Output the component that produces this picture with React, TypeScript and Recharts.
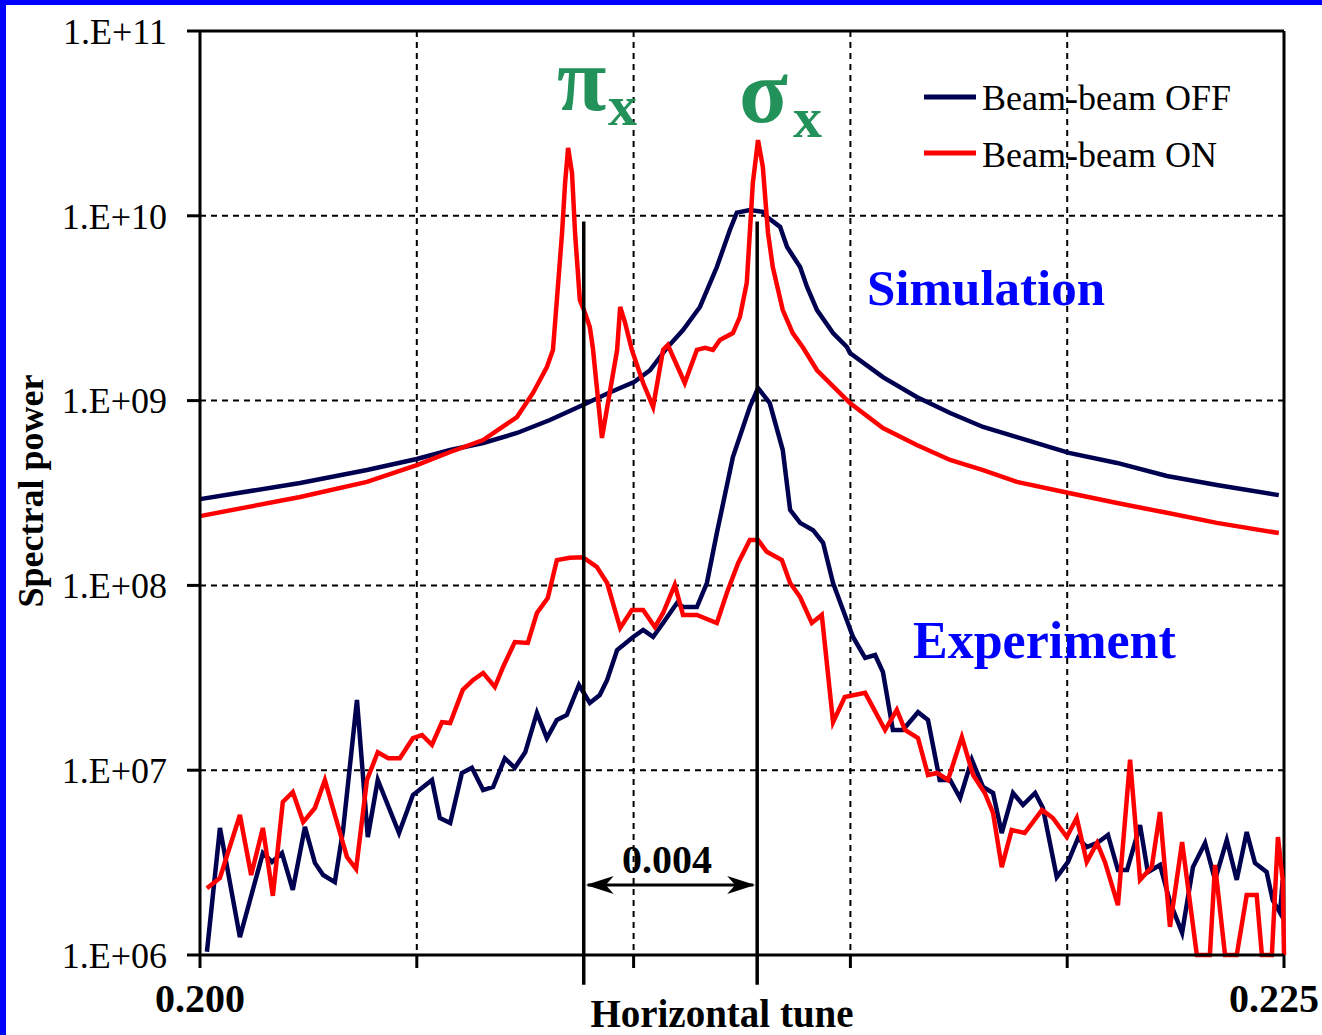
import {
  LineChart,
  Line,
  XAxis,
  YAxis,
  CartesianGrid,
  ReferenceLine,
} from "recharts";

// ---- data (tune, spectral power) ----

const simOffTune = [
  0.2, 0.20231, 0.20385, 0.205, 0.20577, 0.20653, 0.20731, 0.20807, 0.20883, 0.20946,
  0.21001, 0.21038, 0.21068, 0.21077, 0.21114, 0.21153, 0.21192, 0.21222, 0.21238, 0.21268,
  0.21298, 0.21308, 0.21338, 0.21354, 0.21384, 0.214, 0.21423, 0.2146, 0.21492, 0.21499,
  0.21575, 0.21653, 0.2173, 0.21806, 0.21884, 0.22004, 0.22115, 0.2223, 0.22345, 0.22488,
];
const simOffPower = [
  2.93e8, 3.58e8, 4.21e8, 4.83e8, 5.4e8, 5.9e8, 6.68e8, 7.85e8, 9.47e8, 1.11e9,
  1.26e9, 1.46e9, 1.81e9, 1.93e9, 2.41e9, 3.21e9, 5.28e9, 8.38e9, 1.04e10, 1.075e10,
  1.05e10, 9.85e9, 8.7e9, 6.78e9, 5.28e9, 4.12e9, 3.09e9, 2.32e9, 1.95e9, 1.81e9,
  1.34e9, 1.046e9, 8.57e8, 7.2e8, 6.35e8, 5.21e8, 4.6e8, 3.91e8, 3.49e8, 3.08e8,
];

const simOnTune = [
  0.2, 0.20231, 0.20385, 0.205, 0.20577, 0.20653, 0.20731, 0.20768, 0.208, 0.20814,
  0.20823, 0.20835, 0.20842, 0.20849, 0.20858, 0.20865, 0.20876, 0.20888, 0.20899, 0.20906,
  0.20927, 0.20962, 0.20969, 0.2098, 0.20996, 0.21022, 0.21045, 0.21068, 0.21079, 0.21118,
  0.21146, 0.21165, 0.21183, 0.21199, 0.21229, 0.21245, 0.21261, 0.21268, 0.21275, 0.21287,
  0.21298, 0.2131, 0.21321, 0.21344, 0.21367, 0.21391, 0.21423, 0.21499, 0.21575, 0.21653,
  0.2173, 0.21806, 0.21884, 0.22004, 0.22115, 0.2223, 0.22345, 0.22488,
];
const simOnPower = [
  2.37e8, 3.01e8, 3.63e8, 4.48e8, 5.27e8, 6.12e8, 8.15e8, 1.1e9, 1.52e9, 1.88e9,
  3.5e9, 8.07e9, 1.505e10, 2.33e10, 1.7e10, 8.07e9, 3.5e9, 2.98e9, 2.5e9, 1.93e9,
  6.28e8, 1.88e9, 3.21e9, 2.66e9, 1.88e9, 1.245e9, 9.24e8, 1.88e9, 2.0e9, 1.245e9,
  1.88e9, 1.93e9, 1.88e9, 2.13e9, 2.32e9, 2.83e9, 4.33e9, 8.07e9, 1.505e10, 2.57e10,
  1.84e10, 8.07e9, 5.28e9, 3.09e9, 2.32e9, 1.93e9, 1.46e9, 9.7e8, 7.11e8, 5.75e8,
  4.77e8, 4.21e8, 3.63e8, 3.16e8, 2.79e8, 2.47e8, 2.18e8, 1.92e8,
];

const expOffTune = [
  0.20016, 0.20046, 0.20092, 0.20145, 0.20166, 0.20189, 0.20214, 0.20242, 0.20265, 0.20284,
  0.20311, 0.2033, 0.20362, 0.20387, 0.2041, 0.20459, 0.20491, 0.20535, 0.20553, 0.20577,
  0.20604, 0.20627, 0.20653, 0.20676, 0.20703, 0.20726, 0.2075, 0.20777, 0.208, 0.20823,
  0.20846, 0.20874, 0.20899, 0.20922, 0.20939, 0.20962, 0.20999, 0.21022, 0.21045, 0.21068,
  0.211, 0.21114, 0.21146, 0.21169, 0.21192, 0.21229, 0.21268, 0.21287, 0.21314, 0.21344,
  0.21361, 0.21384, 0.21414, 0.21437, 0.2146, 0.21483, 0.21506, 0.21534, 0.21557, 0.21575,
  0.21598, 0.21621, 0.21656, 0.21679, 0.21706, 0.2173, 0.21753, 0.2178, 0.21806, 0.21829,
  0.21849, 0.21875, 0.21898, 0.21926, 0.21944, 0.21976, 0.22002, 0.22025, 0.22045, 0.22069,
  0.22094, 0.22117, 0.22138, 0.22168, 0.22186, 0.22214, 0.22237, 0.22265, 0.2229, 0.22318,
  0.22341, 0.22368, 0.22391, 0.22414, 0.22433, 0.2246, 0.22474, 0.22491, 0.22497,
];
const expOffPower = [
  1.04e6, 4.87e6, 1.25e6, 3.56e6, 3.19e6, 3.56e6, 2.25e6, 4.93e6, 3.15e6, 2.71e6,
  2.48e6, 4.75e6, 2.4e7, 4.35e6, 8.85e6, 4.57e6, 7.34e6, 8.85e6, 5.51e6, 5.18e6,
  9.66e6, 1.03e7, 7.81e6, 8.11e6, 1.16e7, 1.03e7, 1.25e7, 2.04e7, 1.49e7, 1.87e7,
  1.99e7, 2.89e7, 2.31e7, 2.55e7, 3.08e7, 4.47e7, 5.26e7, 5.74e7, 5.26e7, 6.26e7,
  8.03e7, 7.64e7, 7.64e7, 1.03e8, 1.92e8, 4.95e8, 9.24e8, 1.17e9, 9.7e8, 5.4e8,
  2.56e8, 2.18e8, 1.99e8, 1.7e8, 1.03e8, 7.36e7, 5.26e7, 4.05e7, 4.2e7, 3.4e7,
  1.65e7, 1.65e7, 2.06e7, 1.87e7, 8.85e6, 8.85e6, 7.07e6, 1.14e7, 8.11e6, 7.53e6,
  4.57e6, 7.53e6, 6.48e6, 7.53e6, 6.24e6, 2.64e6, 3.19e6, 4.3e6, 3.84e6, 4.04e6,
  4.46e6, 2.88e6, 2.88e6, 5.05e6, 2.81e6, 3.07e6, 1.94e6, 1.32e6, 2.99e6, 4.04e6,
  2.55e6, 4.19e6, 2.55e6, 4.63e6, 3.15e6, 2.81e6, 1.98e6, 1.69e6, 2.55e6,
];

const expOnTune = [
  0.20016, 0.20046, 0.20092, 0.20118, 0.20145, 0.20168, 0.20191, 0.20214, 0.20238, 0.20265,
  0.20288, 0.20339, 0.2036, 0.20385, 0.2041, 0.20434, 0.20461, 0.20491, 0.20512, 0.20535,
  0.20558, 0.20577, 0.20606, 0.2063, 0.20653, 0.2068, 0.20699, 0.20726, 0.20756, 0.20777,
  0.20802, 0.20823, 0.20853, 0.20883, 0.20915, 0.20939, 0.20969, 0.20996, 0.21022, 0.21049,
  0.21068, 0.21095, 0.21114, 0.21146, 0.21192, 0.21215, 0.21241, 0.21268, 0.21287, 0.21307,
  0.21342, 0.21361, 0.21384, 0.21411, 0.21434, 0.2146, 0.21487, 0.21534, 0.2158, 0.21607,
  0.21626, 0.21656, 0.21679, 0.217, 0.21725, 0.21757, 0.21783, 0.2181, 0.21829, 0.21849,
  0.21872, 0.21902, 0.21942, 0.21967, 0.21999, 0.22022, 0.22045, 0.22069, 0.22087, 0.22117,
  0.22145, 0.22168, 0.22195, 0.22214, 0.22237, 0.22265, 0.22299, 0.22329, 0.22341, 0.22364,
  0.22391, 0.22414, 0.22437, 0.22449, 0.22472, 0.22486, 0.22497, 0.225,
];
const expOnPower = [
  2.3e6, 2.61e6, 5.72e6, 2.71e6, 4.87e6, 2.09e6, 6.73e6, 7.62e6, 5.24e6, 6.24e6,
  8.85e6, 3.39e6, 2.92e6, 8.85e6, 1.25e7, 1.16e7, 1.16e7, 1.49e7, 1.55e7, 1.37e7,
  1.82e7, 1.8e7, 2.72e7, 3.08e7, 3.36e7, 2.82e7, 3.62e7, 4.94e7, 4.88e7, 7.09e7,
  8.55e7, 1.37e8, 1.41e8, 1.42e8, 1.26e8, 1.03e8, 5.88e7, 7.36e7, 7.36e7, 5.95e7,
  7.09e7, 1.005e8, 6.92e7, 6.92e7, 6.26e7, 9.1e7, 1.32e8, 1.76e8, 1.76e8, 1.52e8,
  1.37e8, 1.03e8, 8.65e7, 6.26e7, 6.92e7, 1.82e7, 2.49e7, 2.62e7, 1.65e7, 2.12e7,
  1.65e7, 1.49e7, 9.42e6, 9.66e6, 8.85e6, 1.51e7, 9.42e6, 7.53e6, 5.87e6, 2.99e6,
  4.75e6, 4.57e6, 6.09e6, 5.51e6, 4.35e6, 5.51e6, 3.19e6, 4.04e6, 3.19e6, 1.86e6,
  1.14e7, 2.55e6, 2.99e6, 5.94e6, 1.42e6, 4.09e6, 1e6, 1e6, 3.07e6, 1e6,
  1e6, 2.11e6, 2.11e6, 1e6, 1e6, 4.35e6, 2.55e6, 1e6,
];

const xTicks = [0.2, 0.205, 0.21, 0.215, 0.22, 0.225];
const yTicks = [1e6, 1e7, 1e8, 1e9, 1e10, 1e11];

// mode positions (pi and sigma) and the guide line extents
const piTune = 0.20885;
const sigmaTune = 0.21285;
const guideTop = 9.3e9;
const guideBottom = 6.9e5;
const arrowLevel = 2.39e6;

const NAVY = "#000050";
const RED = "#FF0000";
const GREEN = "#23915A";
const BLUE = "#0000FF";
const SERIF = "'Liberation Serif', 'Times New Roman', serif";

const zip = (t: number[], p: number[]) => t.map((x, i) => ({ t: x, p: p[i] }));

const simOff = zip(simOffTune, simOffPower);
const simOn = zip(simOnTune, simOnPower);
const expOff = zip(expOffTune, expOffPower);
const expOn = zip(expOnTune, expOnPower);

const fmtY = (v: number) =>
  "1.E+" + String(Math.round(Math.log10(v))).padStart(2, "0");

const fmtX = (v: number) => {
  if (Math.abs(v - 0.2) < 1e-9) return "0.200";
  if (Math.abs(v - 0.225) < 1e-9) return "0.225";
  return "";
};

// bold x tick, the last one nudged left so it stays inside the picture
const XTick = (props: any) => {
  const { x, y, payload } = props;
  const label = fmtX(payload.value);
  if (!label) return null;
  const last = Math.abs(payload.value - 0.225) < 1e-9;
  return (
    <text
      x={last ? x - 10 : x}
      y={y}
      dy={28}
      textAnchor="middle"
      fontSize={40}
      fontWeight="bold"
      fontFamily={SERIF}
      fill="#000"
    >
      {label}
    </text>
  );
};

const DoubleArrow = (props: any) => {
  const { x1, y1, x2, y2 } = props;
  return (
    <g>
      <line x1={x1 + 4} y1={y1} x2={x2 - 4} y2={y2} stroke="#000" strokeWidth={3} />
      <polygon
        points={`${x1 + 2},${y1} ${x1 + 30},${y1 - 9} ${x1 + 22},${y1} ${x1 + 30},${y1 + 9}`}
        fill="#000"
      />
      <polygon
        points={`${x2 - 2},${y2} ${x2 - 30},${y2 - 9} ${x2 - 22},${y2} ${x2 - 30},${y2 + 9}`}
        fill="#000"
      />
    </g>
  );
};

const App = () => {
  return (
    <div
      style={{
        position: "absolute",
        left: 0,
        top: 0,
        width: 1322,
        height: 1035,
        background: "#fff",
        fontFamily: SERIF,
      }}
    >
      <LineChart
        width={1322}
        height={1035}
        margin={{ top: 31, right: 38, left: 10, bottom: 0 }}
      >
        <CartesianGrid stroke="#000" strokeWidth={2} strokeDasharray="6 5" />
        <XAxis
          dataKey="t"
          type="number"
          domain={[0.2, 0.225]}
          ticks={xTicks}
          interval={0}
          height={80}
          tickSize={13}
          tickMargin={16}
          axisLine={{ stroke: "#000", strokeWidth: 3 }}
          tickLine={{ stroke: "#000", strokeWidth: 3 }}
          tick={<XTick />}
        />
        <YAxis
          type="number"
          scale="log"
          domain={[1e6, 1e11]}
          ticks={yTicks}
          interval={0}
          tickFormatter={fmtY}
          width={190}
          tickSize={13}
          tickMargin={20}
          axisLine={{ stroke: "#000", strokeWidth: 3 }}
          tickLine={{ stroke: "#000", strokeWidth: 3 }}
          tick={{ fill: "#000", fontSize: 36, fontFamily: SERIF }}
        />
        <ReferenceLine y={1e11} stroke="#000" strokeWidth={3} />
        <ReferenceLine x={0.225} stroke="#000" strokeWidth={3} />

        <Line
          data={simOff}
          dataKey="p"
          type="linear"
          stroke={NAVY}
          strokeWidth={4.5}
          dot={false}
          isAnimationActive={false}
        />
        <Line
          data={expOff}
          dataKey="p"
          type="linear"
          stroke={NAVY}
          strokeWidth={4.5}
          dot={false}
          isAnimationActive={false}
        />
        <Line
          data={simOn}
          dataKey="p"
          type="linear"
          stroke={RED}
          strokeWidth={4.5}
          dot={false}
          isAnimationActive={false}
        />
        <Line
          data={expOn}
          dataKey="p"
          type="linear"
          stroke={RED}
          strokeWidth={4.5}
          dot={false}
          isAnimationActive={false}
        />

        <ReferenceLine
          segment={[
            { x: piTune, y: guideTop },
            { x: piTune, y: guideBottom },
          ]}
          ifOverflow="visible"
          stroke="#000"
          strokeWidth={3.5}
        />
        <ReferenceLine
          segment={[
            { x: sigmaTune, y: guideTop },
            { x: sigmaTune, y: guideBottom },
          ]}
          ifOverflow="visible"
          stroke="#000"
          strokeWidth={3.5}
        />
        <ReferenceLine
          segment={[
            { x: piTune, y: arrowLevel },
            { x: sigmaTune, y: arrowLevel },
          ]}
          ifOverflow="visible"
          shape={DoubleArrow}
        />
      </LineChart>

      {/* annotations, legend and axis titles */}
      <svg
        width={1322}
        height={1035}
        style={{ position: "absolute", left: 0, top: 0, pointerEvents: "none" }}
        fontFamily={SERIF}
      >
        <text x={557} y={110} fontSize={90} fontWeight="bold" fill={GREEN}>
          π
        </text>
        <text x={608} y={125} fontSize={58} fontWeight="bold" fill={GREEN}>
          x
        </text>
        <text x={739} y={122} fontSize={90} fontWeight="bold" fill={GREEN}>
          σ
        </text>
        <text x={793} y={137} fontSize={58} fontWeight="bold" fill={GREEN}>
          x
        </text>

        <line x1={924} y1={97} x2={976} y2={97} stroke={NAVY} strokeWidth={5} />
        <text x={982} y={110} fontSize={36} fill="#000">
          Beam-beam OFF
        </text>
        <line x1={924} y1={153} x2={976} y2={153} stroke={RED} strokeWidth={5} />
        <text x={982} y={167} fontSize={36} fill="#000">
          Beam-beam ON
        </text>

        <text x={867} y={305} fontSize={51} fontWeight="bold" fill={BLUE}>
          Simulation
        </text>
        <text x={913} y={658} fontSize={52} fontWeight="bold" fill={BLUE}>
          Experiment
        </text>

        <text x={667} y={873} fontSize={40} fontWeight="bold" textAnchor="middle" fill="#000">
          0.004
        </text>

        <text
          x={43}
          y={491}
          fontSize={36}
          fontWeight="bold"
          textAnchor="middle"
          transform="rotate(-90 43 491)"
          fill="#000"
        >
          Spectral power
        </text>
        <text x={722} y={1027} fontSize={39} fontWeight="bold" textAnchor="middle" fill="#000">
          Horizontal tune
        </text>
      </svg>

      <div style={{ position: "absolute", left: 0, top: 0, width: 1322, height: 5, background: BLUE }} />
      <div style={{ position: "absolute", left: 0, top: 0, width: 6, height: 1035, background: BLUE }} />
    </div>
  );
};

export default App;
